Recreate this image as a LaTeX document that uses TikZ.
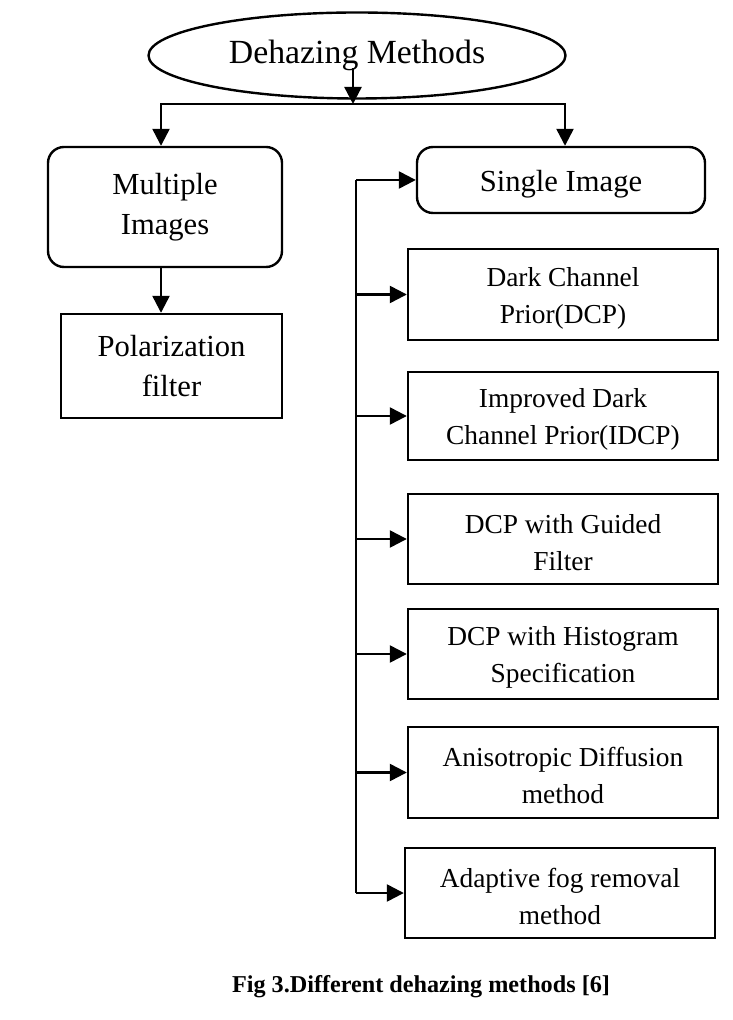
\documentclass[tikz,border=0pt]{standalone}
\usepackage{fontspec}
\setmainfont{Liberation Serif}
\usepackage{tikz}
\usetikzlibrary{shapes, arrows.meta, positioning, calc}

\begin{document}
\begin{tikzpicture}[x=0.5pt, y=-0.5pt,
    line width=1.2pt,
    arr/.style={-{Triangle[length=8.5pt, width=8.5pt]}},
    box/.style={draw, rectangle, align=center, inner sep=2pt,
      font=\fontsize{15.3pt}{20pt}\selectfont},
    methodbox/.style={box, minimum width=155pt,
      font=\fontsize{13.7pt}{18.5pt}\selectfont, text height=31.5pt},
    roundbox/.style={box, rounded corners=8pt}]
  \useasboundingbox (0, 0) rectangle (732, 1020);

  % Root
  \node[draw, ellipse, minimum width=208.5pt, minimum height=43pt,
    font=\fontsize{16.9pt}{20pt}\selectfont] (root) at (357, 55.5) {Dehazing Methods};
  \coordinate (split) at (353, 104);

  % Multiple images branch
  \node[roundbox, minimum width=117pt, minimum height=60pt] (multi) at (165, 207) {Multiple\\Images};
  \node[box, minimum width=110.5pt, minimum height=52pt] (polar) at (171.5, 366) {Polarization\\filter};

  % Single image branch
  \node[roundbox, minimum width=144pt, minimum height=33pt,
    execute at begin node={\rule{0pt}{15pt}}] (single) at (561, 180) {Single Image};
  \node[methodbox, minimum height=45.5pt] (dcp) at (563, 294.5) {Dark Channel\\Prior(DCP)};
  \node[methodbox, minimum height=44pt] (idcp) at (563, 416) {Improved Dark\\Channel Prior(IDCP)};
  \node[methodbox, minimum height=45pt] (guided) at (563, 539) {DCP with Guided\\Filter};
  \node[methodbox, minimum height=45pt] (histo) at (563, 654) {DCP with Histogram\\Specification};
  \node[methodbox, minimum height=45.5pt] (aniso) at (563, 772.5) {Anisotropic Diffusion\\method};
  \node[methodbox, minimum height=45pt] (adapt) at (560, 893) {Adaptive fog removal\\method};
  \coordinate (bus) at (356, 182);

  % Connectors
  \draw[arr] ([yshift=-6.5pt]root.center -| split) -- (split);
  \draw[arr] (split) -| ([xshift=-2pt]multi.north);
  \draw[arr] (split) -| ([xshift=2pt]single.north);
  \draw[arr] ([xshift=-2pt]multi.south) -- ([xshift=-2pt]multi.south |- polar.north);
  \draw (bus |- single.west) -- (bus |- adapt.west);
  \foreach \n in {single, dcp, idcp, guided, histo, aniso, adapt} {
    \draw[arr] (bus |- \n.west) -- (\n.west);
  }

  % Caption
  \node[font=\fontsize{12.1pt}{14pt}\selectfont\bfseries] (caption) at (421, 987) {Fig 3.Different dehazing methods [6]};
\end{tikzpicture}
\end{document}
